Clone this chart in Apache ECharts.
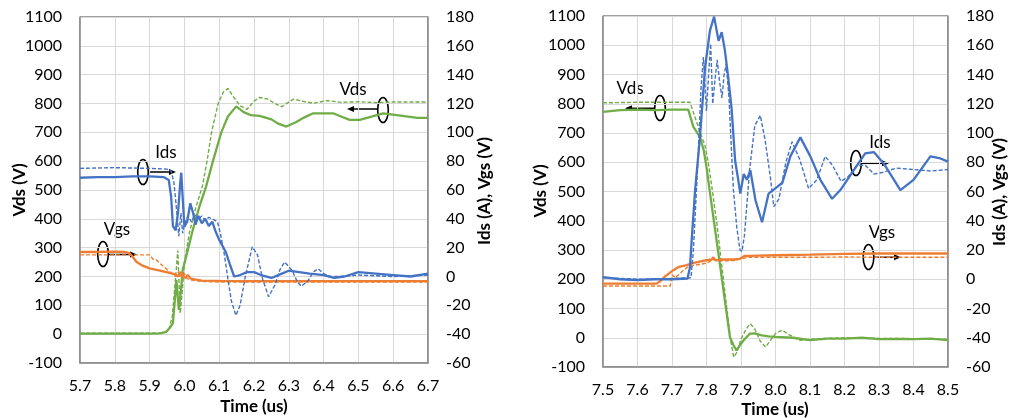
<!DOCTYPE html>
<html>
<head>
<meta charset="utf-8">
<script src="https://cdn.jsdelivr.net/npm/echarts@6/dist/echarts.min.js"></script>
<style>
html, body {margin:0; padding:0; background:#fff;}
#chart {width:1014px; height:418px;}
</style>
</head>
<body>
<div id="chart"></div>
<script>
// 左图 (turn-off): time in us
var offVdsSolid = [[5.7,2],[5.8,2],[5.9,2],[5.93,3],[5.948,8],[5.96,25],[5.967,38],[5.972,110],[5.977,188],[5.984,84],[5.99,150],[5.995,222],[6.005,269],[6.024,361],[6.043,442],[6.062,511],[6.082,600],[6.106,700],[6.125,755],[6.149,790],[6.17,770],[6.19,760],[6.216,757],[6.25,745],[6.27,730],[6.293,720],[6.32,735],[6.345,752],[6.37,766],[6.427,766],[6.45,755],[6.475,743],[6.504,743],[6.54,755],[6.571,766],[6.61,760],[6.638,755],[6.67,750],[6.7,750]];
var offVdsDash = [[5.7,3],[5.8,3],[5.9,3],[5.94,4],[5.955,15],[5.965,60],[5.975,200],[5.981,290],[5.988,72],[5.994,150],[6.0,246],[6.014,350],[6.033,440],[6.052,515],[6.065,600],[6.078,700],[6.097,800],[6.112,840],[6.125,852],[6.14,825],[6.16,792],[6.18,780],[6.2,808],[6.216,821],[6.24,815],[6.26,800],[6.28,789],[6.3,805],[6.314,815],[6.34,808],[6.37,801],[6.41,810],[6.45,804],[6.5,806],[6.55,803],[6.6,805],[6.7,805]];
var offIdsSolid = [[5.7,68.5],[5.75,69],[5.8,69],[5.85,69.5],[5.9,69.5],[5.94,69],[5.955,67],[5.962,55],[5.967,35],[5.975,32],[5.982,45],[5.988,65],[5.991,72],[5.995,55],[6.0,34.6],[6.008,38],[6.017,50.8],[6.025,44],[6.032,36],[6.04,42],[6.05,37],[6.06,40],[6.07,35],[6.08,38],[6.09,31],[6.1,25.4],[6.11,21],[6.119,17],[6.13,9],[6.143,0],[6.16,1],[6.18,3],[6.2,3],[6.22,1],[6.25,-1],[6.28,2],[6.3,4],[6.33,3],[6.36,2],[6.4,1],[6.43,-1],[6.46,0],[6.5,3],[6.55,2],[6.6,1],[6.65,0],[6.7,2]];
var offIdsDash = [[5.7,75],[5.8,75.5],[5.9,75],[5.95,74.5],[5.962,73],[5.97,65],[5.978,45],[5.984,28],[5.99,44],[5.995,30],[6.0,36],[6.01,42],[6.02,38],[6.03,43],[6.04,40],[6.05,42],[6.06,39],[6.07,41],[6.08,40],[6.095,38],[6.105,28],[6.115,15],[6.124,0],[6.135,-17],[6.148,-27],[6.16,-20],[6.175,0],[6.195,20.6],[6.21,15],[6.225,-2],[6.242,-14],[6.26,-6],[6.275,5],[6.288,10],[6.31,4],[6.325,-4],[6.336,-6.8],[6.355,-3],[6.37,3],[6.384,5.4],[6.4,2],[6.42,0],[6.45,0],[6.5,1],[6.6,0],[6.7,1]];
var offVgsSolid = [[5.7,17],[5.75,17],[5.8,17.2],[5.83,17],[5.843,16],[5.85,14],[5.862,10.2],[5.88,7.5],[5.9,5.6],[5.93,4],[5.963,2.2],[5.975,1.5],[5.983,0],[5.99,3],[5.996,0.5],[6.002,-1],[6.01,1],[6.018,-1.5],[6.03,-2],[6.05,-2.8],[6.1,-3],[6.2,-3.2],[6.4,-3.2],[6.7,-3.2]];
var offVgsDash = [[5.7,15],[5.8,15],[5.9,15],[5.905,14.5],[5.91,12],[5.92,11.5],[5.929,9.2],[5.945,6],[5.963,2.2],[5.975,0],[5.985,3.5],[5.992,-1],[6.0,2],[6.008,-1.5],[6.02,-2.5],[6.05,-3.5],[6.1,-3.8],[6.7,-3.8]];

// 右图 (turn-on)
var onVdsSolid = [[7.5,772],[7.55,778],[7.6,780],[7.65,778],[7.7,780],[7.747,780],[7.762,721],[7.781,687],[7.792,640],[7.8,584],[7.805,539],[7.825,369],[7.839,250],[7.854,121],[7.868,2],[7.878,-25],[7.887,-43],[7.897,-25],[7.91,-5],[7.926,14],[7.94,15],[7.96,8],[7.98,5],[8.0,3],[8.05,0],[8.1,-8],[8.15,-3],[8.2,-3],[8.25,0],[8.3,-5],[8.35,-4],[8.4,-5],[8.45,-3],[8.5,-8]];
var onVdsDash = [[7.5,803],[7.6,805],[7.7,805],[7.752,805],[7.765,760],[7.782,700],[7.795,660],[7.805,600],[7.815,520],[7.83,390],[7.845,240],[7.86,90],[7.87,-10],[7.879,-66],[7.888,-50],[7.9,-5],[7.915,30],[7.927,48],[7.94,30],[7.955,-10],[7.971,-32],[7.985,-10],[8.0,15],[8.019,26],[8.04,10],[8.072,-9],[8.1,-5],[8.15,-2],[8.2,0],[8.3,-2],[8.4,-3],[8.5,-5]];
var onIdsSolid = [[7.5,1.5],[7.55,0],[7.6,-0.5],[7.65,0],[7.7,0],[7.745,0.5],[7.752,8],[7.758,30],[7.767,61],[7.781,97],[7.796,145],[7.81,170],[7.822,179.6],[7.835,163],[7.844,169],[7.853,157],[7.863,138],[7.873,116],[7.883,81],[7.892,68],[7.898,58.6],[7.908,72],[7.917,68],[7.927,74.6],[7.942,54],[7.961,39],[7.98,58.6],[8.004,63],[8.02,66],[8.043,84],[8.072,97],[8.101,84],[8.13,68],[8.164,55],[8.188,61],[8.227,74.6],[8.26,86],[8.285,87],[8.314,79],[8.362,61],[8.4,68],[8.449,84],[8.478,82.6],[8.5,80.4]];
var onIdsDash = [[7.5,1],[7.6,0],[7.7,0.5],[7.755,1],[7.762,20],[7.775,80],[7.784,130],[7.791,152],[7.8,115],[7.806,140],[7.812,161],[7.818,120],[7.824,135],[7.831,150],[7.838,135],[7.845,124],[7.851,140],[7.857,147],[7.865,125],[7.872,90],[7.878,61],[7.888,35],[7.897,20],[7.903,19],[7.91,30],[7.925,75],[7.94,105],[7.956,112],[7.97,95],[7.985,70],[7.995,49.6],[8.01,55],[8.03,80],[8.048,94],[8.07,82],[8.096,62],[8.12,68],[8.144,84],[8.165,78],[8.19,67],[8.21,70],[8.236,78],[8.26,78],[8.285,72],[8.31,73],[8.35,76],[8.4,75],[8.45,74],[8.5,75]];
var onVgsSolid = [[7.5,-3],[7.6,-3],[7.655,-3],[7.665,-1.5],[7.68,2],[7.704,6.2],[7.72,8.5],[7.743,9.6],[7.76,11],[7.78,12],[7.8,13],[7.815,13.5],[7.82,15],[7.825,13],[7.85,13.5],[7.88,13.5],[7.897,14],[7.91,16],[7.926,16],[7.95,16.2],[8.0,16.4],[8.1,16.8],[8.2,17.4],[8.3,17.6],[8.4,17.6],[8.5,17.6]];
var onVgsDash = [[7.5,-4.6],[7.6,-4.6],[7.695,-4.6],[7.7,3],[7.71,1],[7.733,6.2],[7.75,9],[7.8,11],[7.82,13.5],[7.85,12.5],[7.88,12.8],[7.9,14],[7.92,15],[8.0,15],[8.1,15],[8.2,15.2],[8.3,15],[8.5,15]];

var GREEN = '#70AD47', BLUE = '#4472C4', ORANGE = '#ED7D31';
var FONT = 'Lato, "Open Sans", sans-serif';

function xAx(idx, mn, mx) {
    return {
        type: 'value', gridIndex: idx, min: mn, max: mx, interval: 0.1,
        axisLine: {onZero: false, lineStyle: {color: '#8c8c8c', width: 1.5}},
        axisTick: {show: false},
        axisLabel: {fontFamily: FONT, fontSize: 16, color: '#000', margin: 15,
            formatter: function(v){ return v.toFixed(1); }},
        splitLine: {lineStyle: {color: '#d9d9d9'}}
    };
}
function yAx(idx, pos, mn, mx, step) {
    return {
        type: 'value', gridIndex: idx, position: pos, min: mn, max: mx, interval: step,
        axisLine: {show: true, onZero: false, lineStyle: {color: '#8c8c8c', width: 1.5}},
        axisTick: {show: false},
        axisLabel: {fontFamily: FONT, fontSize: 16, color: '#000', margin: 18,
            formatter: function(v){ return String(v); }},
        splitLine: {show: pos === 'left', lineStyle: {color: '#d9d9d9'}}
    };
}
function ser(data, x, y, color, dashed) {
    return {
        type: 'line', xAxisIndex: x, yAxisIndex: y, data: data,
        showSymbol: false, symbol: 'none', silent: true,
        lineStyle: {color: color, width: dashed ? 1.4 : 2.3, type: dashed ? [4, 2] : 'solid'}
    };
}
function arrow(x1, y, x2) {
    var d = x2 > x1 ? -1 : 1;
    return [
        {type: 'line', shape: {x1: x1, y1: y, x2: x2 + d * 5, y2: y}, style: {stroke: '#000', lineWidth: 1.5}},
        {type: 'polygon', shape: {points: [[x2, y], [x2 + d * 7, y - 3], [x2 + d * 7, y + 3]]}, style: {fill: '#000'}}
    ];
}
function ell(cx, cy) {
    return {type: 'ellipse', shape: {cx: cx, cy: cy, rx: 5.3, ry: 12.5}, style: {fill: 'none', stroke: '#000', lineWidth: 1.6}};
}
function txt(s, x, y) {
    return {type: 'text', style: {text: s, x: x, y: y, fill: '#000', font: '17px ' + FONT, align: 'center', verticalAlign: 'middle'}};
}
// axis titles
function title(s, x, y, rot) {
    return {type: 'text', x: x, y: y, rotation: rot ? Math.PI / 2 : 0,
        style: {text: s, x: 0, y: 0, fill: '#000', font: 'bold 17px ' + FONT, align: 'center', verticalAlign: 'middle'}};
}

var graphics = [].concat(
    [title('Vds (V)', 20, 190, true), title('Ids (A), Vgs (V)', 485, 191, true), title('Time (us)', 254, 407, false)],
    [title('Vds (V)', 541, 191, true), title('Ids (A), Vgs (V)', 1000, 192, true), title('Time (us)', 775, 410, false)],
    [txt('Vds', 353, 90), ell(383, 110)], arrow(378, 109, 347),
    [txt('Ids', 166, 153), ell(143, 172)], arrow(148, 172, 176),
    [txt('Vgs', 117, 230), ell(103, 254)], arrow(108, 254.5, 137),
    [txt('Vds', 630, 89), ell(660, 108)], arrow(655, 108.3, 625),
    [txt('Ids', 880, 143), ell(856, 163)], arrow(861, 163.3, 889),
    [txt('Vgs', 882, 233), ell(868.5, 257)], arrow(873, 257.3, 901)
);

var chart = echarts.init(document.getElementById('chart'), null, {renderer: 'canvas'});
var option = {
    animation: false,
    grid: [
        {left: 80, top: 17, width: 348, height: 346, show: true, borderColor: '#404040', borderWidth: 1},
        {left: 603, top: 16, width: 345, height: 351, show: true, borderColor: '#404040', borderWidth: 1}
    ],
    xAxis: [xAx(0, 5.7, 6.7), xAx(1, 7.5, 8.5)],
    yAxis: [
        yAx(0, 'left', -100, 1100, 100),
        yAx(0, 'right', -60, 180, 20),
        yAx(1, 'left', -100, 1100, 100),
        yAx(1, 'right', -60, 180, 20)
    ],
    series: [
        ser(offVdsDash, 0, 0, GREEN, true),
        ser(offVdsSolid, 0, 0, GREEN, false),
        ser(offVgsDash, 0, 1, ORANGE, true),
        ser(offVgsSolid, 0, 1, ORANGE, false),
        ser(offIdsDash, 0, 1, BLUE, true),
        ser(offIdsSolid, 0, 1, BLUE, false),
        ser(onVdsDash, 1, 2, GREEN, true),
        ser(onVdsSolid, 1, 2, GREEN, false),
        ser(onVgsDash, 1, 3, ORANGE, true),
        ser(onVgsSolid, 1, 3, ORANGE, false),
        ser(onIdsDash, 1, 3, BLUE, true),
        ser(onIdsSolid, 1, 3, BLUE, false)
    ],
    graphic: graphics
};
chart.setOption(option);
</script>
</body>
</html>
